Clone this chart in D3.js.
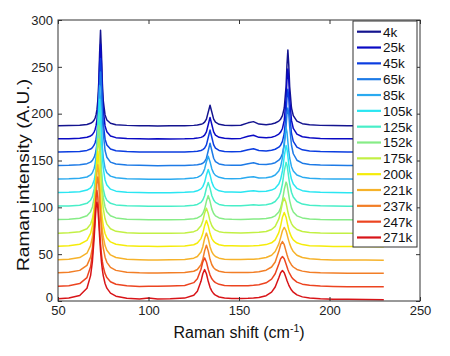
<!DOCTYPE html>
<html><head><meta charset="utf-8">
<script src="https://cdn.jsdelivr.net/npm/d3@7"></script>
<style>
html,body{margin:0;padding:0;background:#fff;}
svg{display:block;font-family:"Liberation Sans",Arial,sans-serif;}
</style></head>
<body>
<svg id="chart" width="450" height="356"></svg>
<script>
// Raman shift grid (cm^-1)
const ramanShift = [50,56,62,66,68,69,70,70.5,71,71.5,72,72.5,73,73.5,74,74.5,75,76,77,79,82,88,95,100,105,112,120,
  125,127,129,130,131,132,133,134,135,136,137,139,142,146,
  151,155,158,161,165,168,170,172,173,174,175,176,176.5,177,177.5,178,179,180,182,185,189,195,202,210,220,230];

const temperatures = ["4k","25k","45k","65k","85k","105k","125k","152k","175k","200k","221k","237k","247k","271k"];
// vertical stacking offset of each spectrum (A.U.)
const offsets = [186,172,158,143.5,129,114.5,100,85.5,71,57,42.5,28.5,14,0.5];

const int4k = [1.1,1.3,1.6,2.4,3.7,4.9,7.3,9.4,12.7,18,28,46.6,79,103,79,46.6,28,12.7,7.3,3.7,2.1,1.5,1.2,1.1,0.9,1.0,1.2,
  1.5,1.8,2.6,3.4,4.9,8.2,15.6,23,15.6,8.2,4.9,2.6,1.7,1.4,
  1.7,4.2,5.5,2.9,2.1,2.9,4,6.1,8.1,11.9,20,43,66,82,66,43,20,11.9,6.1,3.3,2.1,1.5,1.3,1.2,1.1,1.0];
const int25k = [1.2,1.3,1.8,2.8,4.2,5.7,8.6,11.1,14.9,21.2,32.1,51.5,81.8,102,81.8,51.5,32.1,14.9,8.6,4.2,2.4,1.6,1.3,1.0,1.1,0.9,1.1,
  1.6,1.9,2.7,3.5,5.1,8.6,16.2,24,16.2,8.6,5.1,2.7,1.7,1.3,
  1.6,3.8,5.0,2.7,2.2,2.9,4.0,6.2,8.3,12.2,20.8,43.6,63.7,75.8,63.7,43.6,20.8,12.2,6.2,3.4,2.2,1.5,1.3,1.2,1.0,1.1];
const int45k = [1.2,1.4,1.7,2.8,4.2,5.7,8.6,11,14.8,21,31.8,51,81,101,81,51,31.8,14.8,8.6,4.2,2.4,1.5,1.2,1.1,1.0,1.1,1.2,
  1.6,1.9,2.7,3.6,5.2,8.7,16.6,24.5,16.6,8.7,5.2,2.7,1.7,1.4,
  1.6,3.5,4.5,2.6,2.2,2.9,4.0,6.2,8.4,12.4,20.8,41.9,58.6,68,58.6,41.9,20.8,12.4,6.2,3.4,2.2,1.5,1.3,1.1,1.2,1.0];
const int65k = [1.2,1.4,1.9,3.1,4.8,6.6,10,12.8,17.2,24.2,36,55.8,83.9,101,83.9,55.8,36,17.2,10,4.8,2.7,1.6,1.3,1.2,1.0,1.1,1.2,
  1.6,1.9,2.8,3.6,5.3,8.9,16.9,25,16.9,8.9,5.3,2.8,1.7,1.3,
  1.5,3.1,4.0,2.5,2.2,3.1,4.2,6.8,9.2,13.7,22.8,42.6,55.9,62.5,55.9,42.6,22.8,13.7,6.8,3.6,2.2,1.6,1.3,1.2,1.1,1.0];
const int85k = [1.2,1.4,2.0,3.4,5.6,8,12.8,17.2,24.2,36,55.8,83.9,101,83.9,55.8,36,24.2,12.8,8,4.3,2.5,1.5,1.3,1.1,1.1,1.0,1.5,
  2.2,3.0,5.1,7.5,12,19.7,25.5,19.7,12,7.5,5.1,3.0,1.9,1.6,
  1.7,3.0,3.7,2.4,2.5,3.7,5.5,9.7,14.4,23.7,41.1,56,51.3,41.1,31.2,23.7,14.4,9.7,5.5,3.2,2.1,1.5,1.3,1.2,1.1,1.1];
const int105k = [1.3,1.5,2.2,3.9,6.4,9.3,14.8,19.7,27.5,40,60,86.2,101,86.2,60,40,27.5,14.8,9.3,4.9,2.8,1.6,1.3,1.2,1.1,1.1,1.5,
  2.2,3.1,5.2,7.6,12.2,20.1,26,20.1,12.2,7.6,5.2,3.1,2.0,1.8,
  1.7,2.7,3.2,2.3,2.6,3.9,5.8,10.3,15.4,24.4,40,51.5,48,40,31.4,24.4,15.4,10.3,5.8,3.3,2.2,1.6,1.3,1.2,1.1,1.0];
const int125k = [1.3,1.5,2.3,4.3,7.6,11.5,19.7,27.5,40,60,86.2,101,86.2,60,40,27.5,19.7,11.5,7.6,4.3,2.6,1.6,1.3,1.2,1.1,1.1,1.5,
  2.2,3.1,5.3,7.8,12.4,20.5,26.5,20.5,12.4,7.8,5.3,3.1,2.0,1.7,
  1.7,2.3,2.8,2.3,2.7,4.1,6.2,11,16.1,25.1,38.8,48,45.3,38.8,31.5,25.1,16.1,11,6.2,3.5,2.2,1.6,1.4,1.2,1.1,1.0];
const int152k = [1.4,1.7,2.8,5.5,9.9,14.9,25.1,34.2,48.1,67.9,90.6,102,90.6,67.9,48.1,34.2,25.1,14.9,9.9,5.5,3.2,1.8,1.4,1.3,1.2,1.2,1.6,
  2.3,3.2,5.4,7.9,12.6,20.9,27,20.9,12.6,7.9,5.4,3.2,2.0,1.7,
  1.6,1.9,2.1,2.0,2.5,3.7,5.4,9.5,13.9,21.7,33.5,41.4,39.1,33.5,27.2,21.7,13.9,9.5,5.4,3.2,2.1,1.5,1.3,1.2,1.1,1.1];
const int175k = [1.4,1.8,3.0,6.1,11.1,16.7,27.8,37.4,51.5,70.9,91.9,102,91.9,70.9,51.5,37.4,27.8,16.7,11.1,6.1,3.4,1.9,1.4,1.3,1.2,1.4,1.7,
  3.0,4.7,9.3,14.5,22.6,28,22.6,14.5,9.3,6.4,4.7,3.0,2.0,1.8,
  1.7,1.8,2.0,2.3,3.2,5.3,8.6,16.6,24.2,33.8,39,33.8,28.9,24.2,20,16.6,11.7,8.6,5.3,3.2,2.2,1.6,1.3,1.2,1.1,1.1];
const int200k = [1.5,2.0,3.6,7.7,15.1,23.5,40.8,55.3,74.3,93.9,103,93.9,74.3,55.3,40.8,30.6,23.5,15.1,10.5,6.1,3.6,2.0,1.5,1.4,1.3,1.5,1.8,
  3.1,4.9,9.6,15,23.4,29,23.4,15,9.6,6.6,4.9,3.1,2.1,1.9,
  1.7,1.8,1.9,2.2,3.2,5.1,8.3,16,23.3,32.5,37.5,32.5,27.8,23.3,19.3,16,11.3,8.3,5.1,3.2,2.1,1.6,1.3,1.2,1.1,1.0];
const int221k = [1.6,2.1,3.9,8.5,16.6,25.8,43.7,58.3,76.8,94.8,103,94.8,76.8,58.3,43.7,33.2,25.8,16.6,11.6,6.7,3.9,2.1,1.6,1.4,1.4,1.6,1.8,
  3.2,5.0,9.9,15.5,24.2,30,24.2,15.5,9.9,6.8,5.0,3.2,2.1,1.9,
  1.8,2.0,2.2,2.6,3.9,6.4,10.3,18.5,25.2,32.5,36,32.5,29,25.2,21.7,18.5,13.6,10.3,6.4,3.9,2.5,1.8,1.4,1.3,1.2,1.0];
const int237k = [1.7,2.3,4.2,9.5,18.3,28.3,47,61.8,79.7,96.6,104,96.6,79.7,61.8,47,36.1,28.3,18.3,12.8,7.4,4.2,2.3,1.6,1.5,1.5,1.7,1.9,
  3.3,5.1,10.2,16,25,31,25,16,10.2,7,5.1,3.3,2.2,2.0,
  1.9,2.0,2.3,2.8,4.4,7.8,13.2,24.5,31.6,35,31.6,24.5,21.1,18,15.4,13.2,10,7.8,5.2,3.4,2.3,1.7,1.4,1.2,1.1,1.0];
const int247k = [1.7,2.4,4.6,11,22.5,36.1,61.8,79.7,96.6,104,96.6,79.7,61.8,47,36.1,28.3,22.5,15.2,11,6.6,3.9,2.2,1.6,1.7,1.8,2.0,2.5,
  5.6,9.7,19.9,27.7,32,27.7,19.9,13.7,9.7,7.2,5.6,3.8,2.5,2.3,
  2.2,2.4,2.8,3.4,5.4,9.3,15.1,25.5,31.1,33.5,31.1,25.5,22.5,19.7,17.3,15.1,11.7,9.3,6.2,4.0,2.7,1.9,1.5,1.3,1.2,1.1];
const int271k = [1.9,2.7,5.4,13.2,26.6,41.6,67.6,84.2,98.9,105,98.9,84.2,67.6,53,41.6,33,26.6,18.2,13.2,7.9,4.6,2.5,1.7,2.6,1.7,1.9,2.6,
  5.7,10,20.5,28.6,33,28.6,20.5,14.1,10,7.4,5.7,3.8,2.6,2.3,
  2.2,2.4,2.7,3.3,5.2,8.9,14.5,24.4,29.7,32,29.7,24.4,21.5,18.9,16.5,14.5,11.2,8.9,6.0,3.9,2.6,1.8,1.5,1.3,1.0,0.8];

const spectra = [int4k,int25k,int45k,int65k,int85k,int105k,int125k,int152k,int175k,int200k,int221k,int237k,int247k,int271k];
const xTicks = [50,100,150,200,250];
const yTicks = [0,50,100,150,200,250,300];

const colors = ["#14148f","#0a0ac4","#0b3de0","#1d7ae6","#2aaaf0","#2ae6f2","#48eec8","#86ec86","#c2f044",
                "#f5ec0a","#f6b22a","#f27e26","#ec4420","#d81418"];

const svg = d3.select("#chart");
svg.append("rect").attr("width",450).attr("height",356).attr("fill","#fff");

const L = 58, R = 420, T = 20, B = 301;
const x = d3.scaleLinear().domain([50,250]).range([L,R]);
const y = d3.scaleLinear().domain([0,300]).range([B,T]);

const line = d3.line().x((d,i)=>x(ramanShift[i])).y(d=>y(d));
const plot = svg.append("g");
spectra.forEach((s,k)=>{
  plot.append("path")
    .datum(s.map(v=>v+offsets[k]))
    .attr("d",line)
    .attr("fill","none")
    .attr("stroke",colors[k])
    .attr("stroke-width",1.5)
    .attr("stroke-linejoin","round");
});

const axColor = "#333";
function styleAxis(g){
  g.select(".domain").remove();
  g.selectAll(".tick line").attr("stroke",axColor);
  g.selectAll(".tick text").attr("fill","#222").attr("font-size","13px")
   .attr("font-family","'Liberation Sans',Arial,sans-serif");
}
const yAxisG = svg.append("g").attr("transform",`translate(${L},0)`)
  .call(d3.axisLeft(y).tickValues(yTicks).tickSizeInner(-4).tickSizeOuter(0).tickPadding(5)).call(styleAxis);
// lift the "0" label slightly so it clears the "50" below it (as in the reference)
yAxisG.selectAll(".tick text").filter(d=>d===0).attr("dy","0.05em");
svg.append("g").attr("transform",`translate(${R},0)`)
  .call(d3.axisRight(y).tickValues(yTicks).tickSizeInner(-4).tickSizeOuter(0).tickFormat("")).call(styleAxis);
svg.append("g").attr("transform",`translate(0,${B})`)
  .call(d3.axisBottom(x).tickValues(xTicks).tickSizeInner(-4).tickSizeOuter(0).tickPadding(5)).call(styleAxis);
svg.append("g").attr("transform",`translate(0,${T})`)
  .call(d3.axisTop(x).tickValues(xTicks).tickSizeInner(-4).tickSizeOuter(0).tickFormat("")).call(styleAxis);

svg.append("rect").attr("x",L).attr("y",T).attr("width",R-L).attr("height",B-T)
  .attr("fill","none").attr("stroke",axColor).attr("stroke-width",1);

// axis labels
const xl = svg.append("text").attr("x",(L+R)/2).attr("y",338).attr("text-anchor","middle")
  .attr("font-size","16px").attr("fill","#111");
xl.append("tspan").text("Raman shift (cm");
xl.append("tspan").attr("font-size","10.5px").attr("dy","-6").text("-1");
xl.append("tspan").attr("dy","6").text(")");

svg.append("text").attr("transform","translate(29,175) rotate(-90)")
  .attr("text-anchor","middle").attr("font-size","16.5px").attr("fill","#111")
  .attr("textLength",192).attr("lengthAdjust","spacingAndGlyphs")
  .text("Raman intensity (A.U.)");

// legend
const lg = svg.append("g");
lg.append("rect").attr("x",353).attr("y",21).attr("width",64).attr("height",226)
  .attr("fill","#fff").attr("stroke",axColor).attr("stroke-width",1);
temperatures.forEach((t,k)=>{
  const yy = 31.7 + k*15.83;
  lg.append("line").attr("x1",357).attr("x2",381).attr("y1",yy).attr("y2",yy)
    .attr("stroke",colors[k]).attr("stroke-width",2.2);
  lg.append("text").attr("x",383).attr("y",yy).attr("dy","0.36em")
    .attr("font-size","13.5px").attr("fill","#111").text(t);
});
</script>
</body></html>
